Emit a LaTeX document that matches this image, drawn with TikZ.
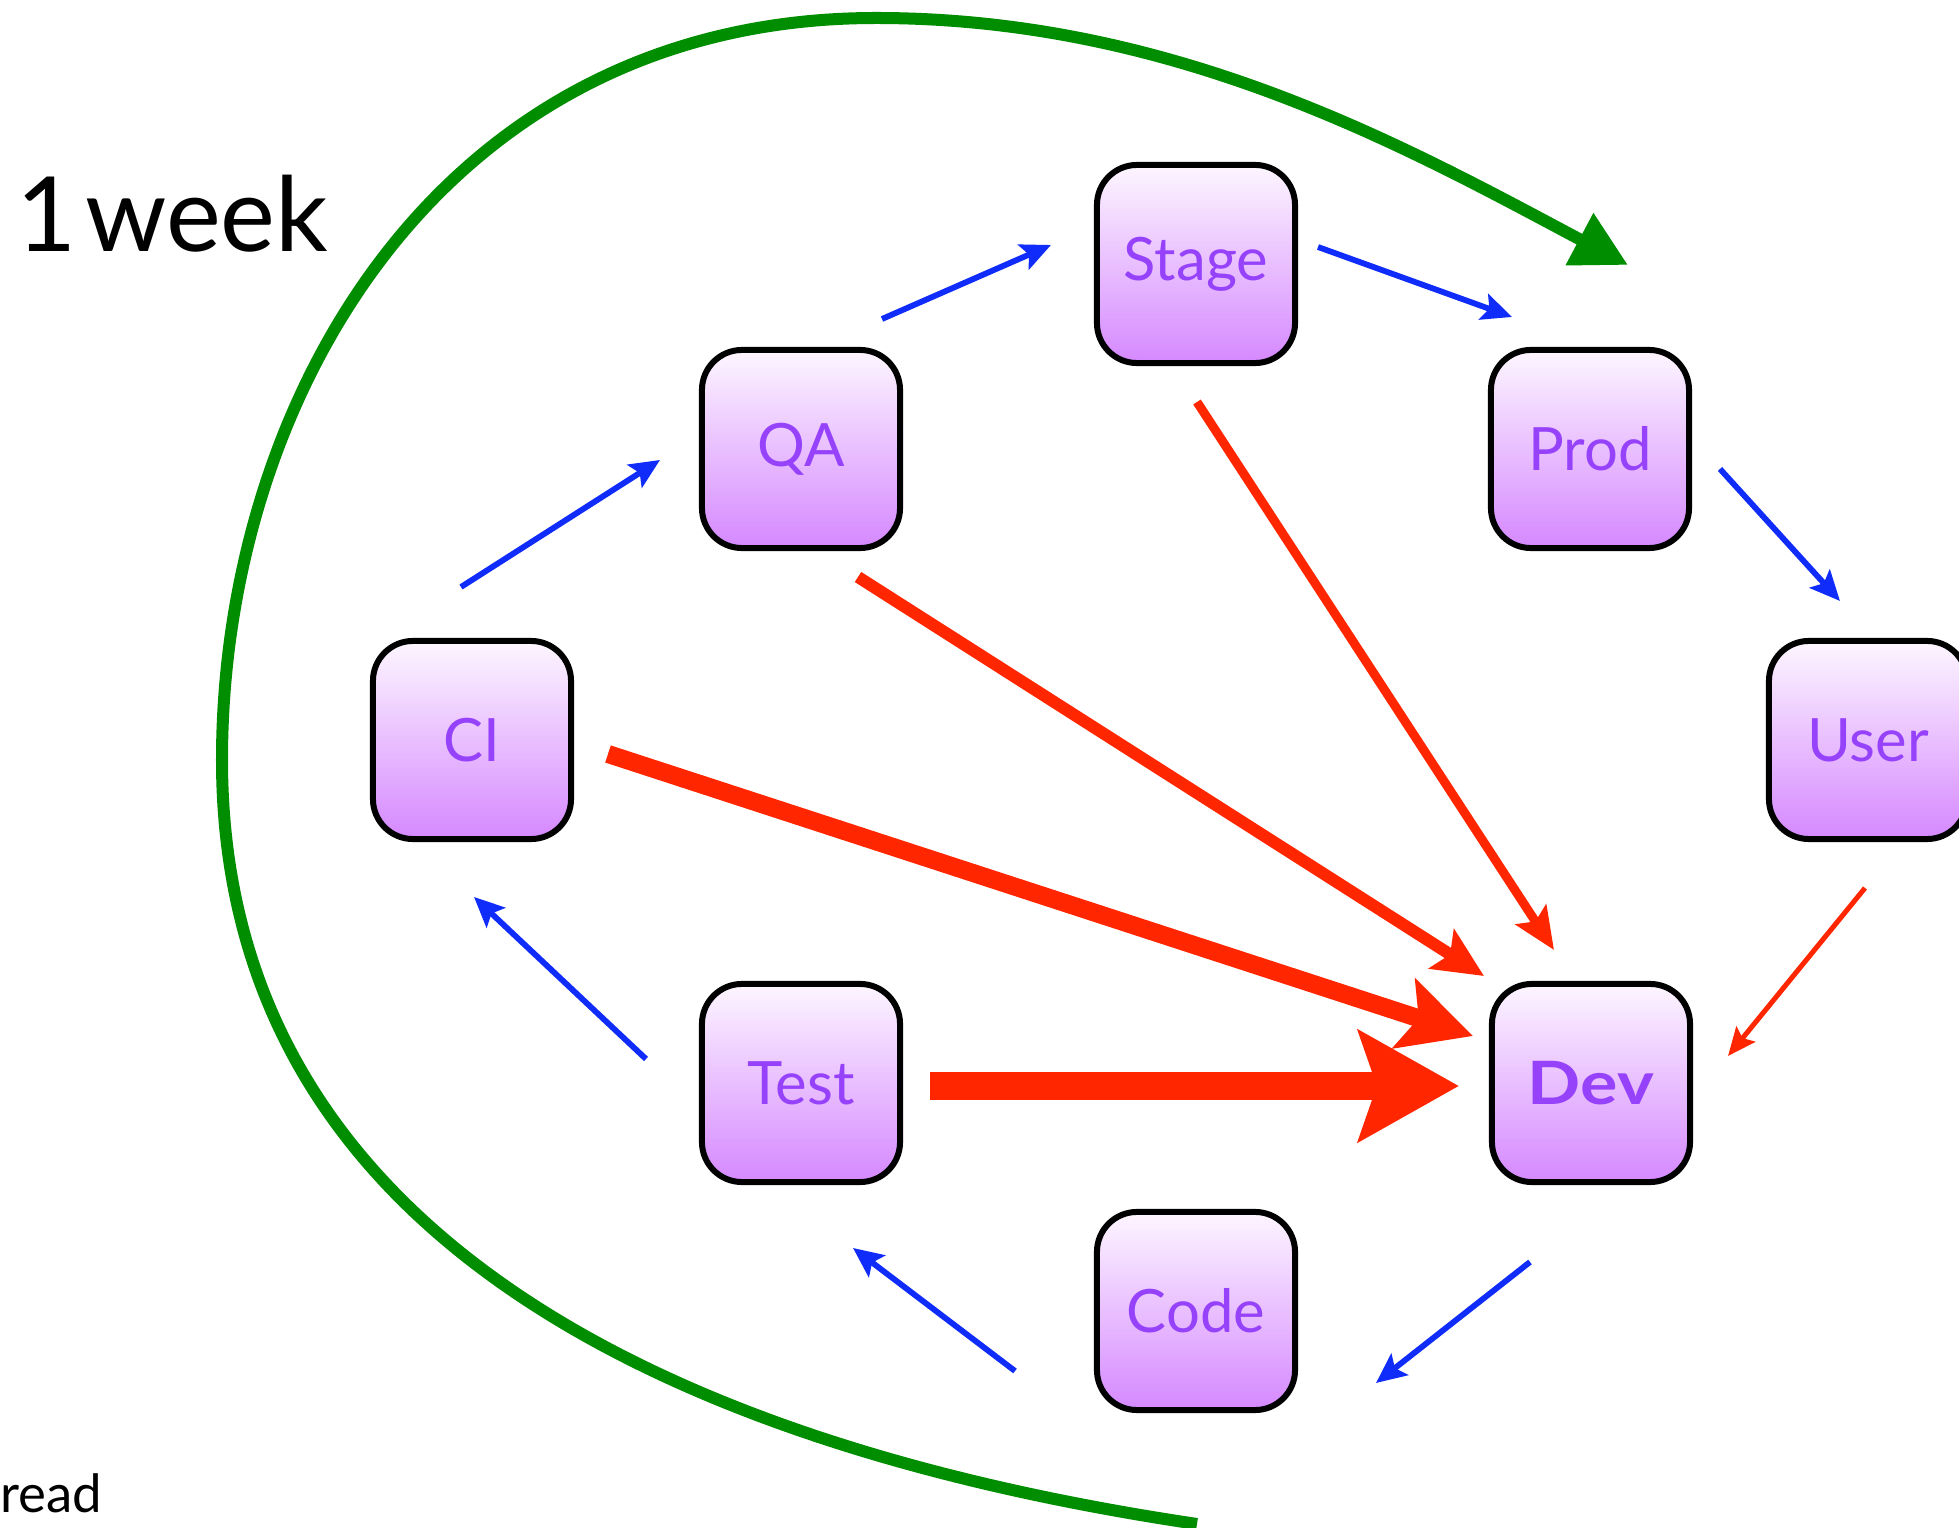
\documentclass[tikz,border=0pt]{standalone}
\usepackage{fontspec}
\setmainfont{Lato}
\usepackage{graphicx}
\usetikzlibrary{arrows.meta}
\definecolor{boxtop}{RGB}{253,246,255}
\definecolor{boxbot}{RGB}{213,136,255}
\definecolor{txtpurple}{RGB}{150,66,250}
\definecolor{arrblue}{RGB}{16,44,250}
\definecolor{arrred}{RGB}{255,38,0}
\definecolor{arrgreen}{RGB}{0,142,0}
\begin{document}
\begin{tikzpicture}[x=0.01cm,y=-0.01cm,
  stepbox/.style={draw=black, line width=0.06cm, rounded corners=0.4cm,
    minimum width=1.98cm, minimum height=1.98cm, inner sep=0pt,
    top color=boxtop, bottom color=boxbot, text=txtpurple,
    font=\fontsize{17}{20}\selectfont},
  bluearrow/.style={draw=arrblue, line width=0.058cm,
    -{Stealth[length=0.3cm,width=0.27cm,inset=0.06cm]}},
  redarrow/.style={draw=arrred, fill=arrred},
  greenarrow/.style={draw=arrgreen, line width=0.12cm,
    -{Triangle[length=0.55cm,width=0.56cm]}}
]
\useasboundingbox (0,0) rectangle (1959,1528);
\fill[white] (0,0) rectangle (1959,1528);

% nodes
\node[stepbox] (S) at (1196,264) {Stage};
\node[stepbox] (Q) at (801,449) {QA};
\node[stepbox] (P) at (1590,449) {Prod};
\node[stepbox] (C) at (472,740) {CI};
\node[stepbox] (U) at (1868,740) {User};
\node[stepbox] (T) at (801,1083) {Test};
\node[stepbox] (D) at (1591,1083) {\bfseries\scalebox{1.17}[1]{Dev}};
\node[stepbox] (K) at (1196,1311) {Code};

% texts
\node[anchor=base west, inner sep=0pt, font=\fontsize{29.5}{34}\selectfont] (week) at (16,252) {1\hspace{0.08em}week};
\node[anchor=base west, inner sep=0pt, font=\fontsize{15}{18}\selectfont] (read) at (0,1513) {read};

% blue arrows
\draw[bluearrow] ([shift={(-11,-153)}]C.center) -- ([shift={(-141,11)}]Q.center);
\draw[bluearrow] ([shift={(81,-130)}]Q.center) -- ([shift={(-145,-19)}]S.center);
\draw[bluearrow] ([shift={(122,-17)}]S.center) -- ([shift={(-78,-132)}]P.center);
\draw[bluearrow] ([shift={(130,20)}]P.center) -- ([shift={(-28,-139)}]U.center);
\draw[bluearrow] ([shift={(-61,179)}]D.center) -- ([shift={(180,72)}]K.center);
\draw[bluearrow] ([shift={(-181,60)}]K.center) -- ([shift={(52,165)}]T.center);
\draw[bluearrow] ([shift={(-155,-24)}]T.center) -- ([shift={(2,157)}]C.center);

% red arrows
\draw[redarrow, line width=0.05cm, -{Stealth[length=0.28cm,width=0.24cm,inset=0.05cm]}]
  ([shift={(-3,148)}]U.center) -- ([shift={(137,-27)}]D.center);
\draw[redarrow, line width=0.09cm, -{Stealth[length=0.42cm,width=0.36cm,inset=0.08cm]}]
  ([shift={(1,138)}]S.center) -- ([shift={(-37,-133)}]D.center);
\draw[redarrow, line width=0.12cm, -{Stealth[length=0.5cm,width=0.46cm,inset=0.1cm]}]
  ([shift={(57,128)}]Q.center) -- ([shift={(-107,-107)}]D.center);
\draw[redarrow, line width=0.18cm, -{Stealth[length=0.72cm,width=0.72cm,inset=0.15cm]}]
  ([shift={(136,14)}]C.center) -- ([shift={(-118,-47)}]D.center);
\draw[redarrow, line width=0.28cm, -{Stealth[length=1.0cm,width=1.1cm,inset=0.18cm]}]
  ([shift={(129,3)}]T.center) -- ([shift={(-132,3)}]D.center);

% green loop
\coordinate (gs) at (1197,1524);
\coordinate (gt) at (1628,265);
\draw[greenarrow] (gs) .. controls (700,1450) and (222,1250) .. (222,760)
  .. controls (222,400) and (440,18) .. (876,18)
  .. controls (1176,18) and (1408,148) .. (gt);
\end{tikzpicture}
\end{document}
